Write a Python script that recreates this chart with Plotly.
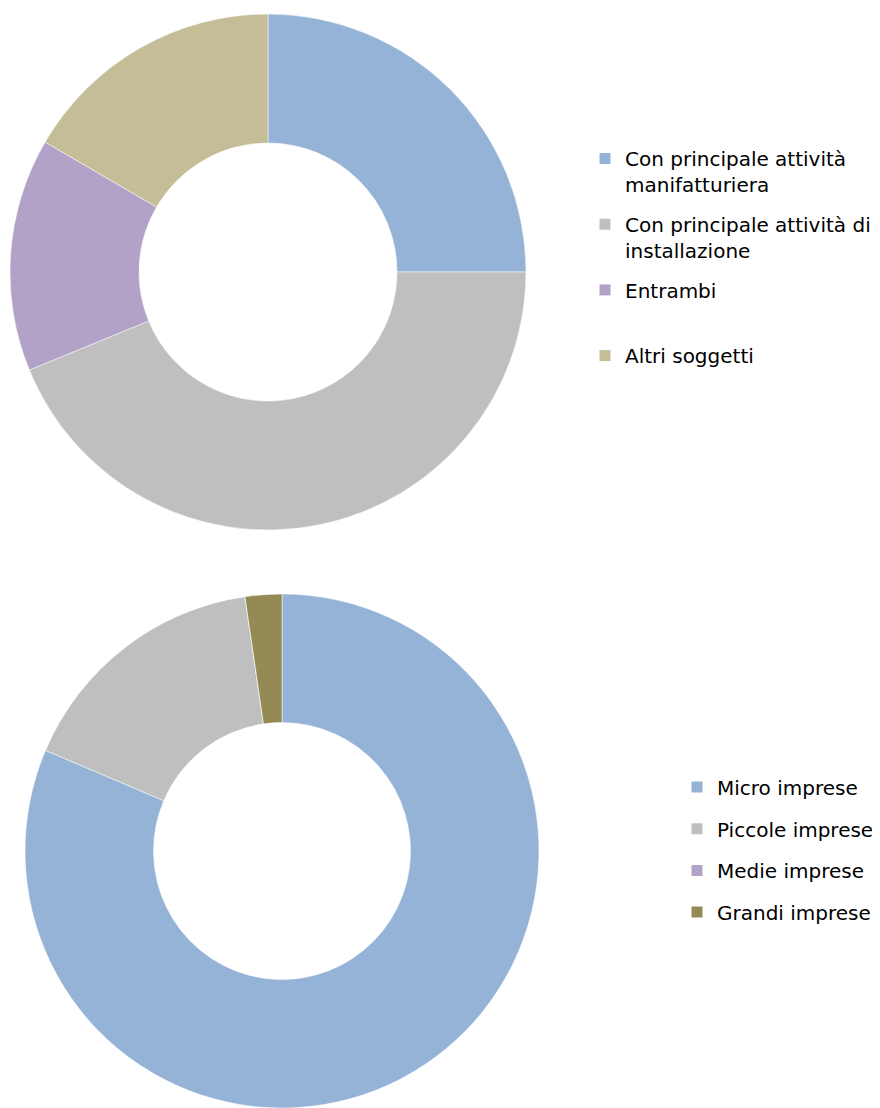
import plotly.graph_objs as go

# top donut: type of activity
attivita_labels = [
    "Con principale attività<br>manifatturiera",
    "Con principale attività di<br>installazione",
    "Entrambi<br>&nbsp;",
    "Altri soggetti",
]
attivita_values = [25.0, 43.8, 14.6, 16.6]
attivita_colors = ["#95B3D7", "#BFBFBF", "#B2A2C7", "#C4BD97"]

# bottom donut: company size
dimensione_labels = ["Micro imprese", "Piccole imprese", "Medie imprese", "Grandi imprese"]
dimensione_values = [81.4, 16.3, 0.0, 2.3]
dimensione_colors = ["#95B3D7", "#BFBFBF", "#B2A2C7", "#948A54"]

# the html page adds an 8px body margin, so the figure is 8px smaller
W, H = 872, 1100

fig = go.Figure()

fig.add_trace(
    go.Pie(
        labels=attivita_labels,
        values=attivita_values,
        marker=dict(colors=attivita_colors, line=dict(color="white", width=0.5)),
        hole=0.5,
        sort=False,
        direction="clockwise",
        rotation=0,
        textinfo="none",
        showlegend=False,
        domain=dict(x=[2 / W, 518 / W], y=[1 - 522 / H, 1 - 6 / H]),
    )
)

fig.add_trace(
    go.Pie(
        labels=dimensione_labels,
        values=dimensione_values,
        marker=dict(colors=dimensione_colors, line=dict(color="white", width=0.5)),
        hole=0.5,
        sort=False,
        direction="clockwise",
        rotation=0,
        textinfo="none",
        showlegend=False,
        domain=dict(x=[17 / W, 531 / W], y=[0, 1 - 586 / H]),
    )
)

# legend entries, one group each so the legend can space them like the original
for name, col in zip(attivita_labels, attivita_colors):
    fig.add_trace(
        go.Scatter(
            x=[None], y=[None], mode="markers", name=name,
            marker=dict(symbol="square", size=11, color=col, line=dict(width=0)),
            legend="legend", legendgroup="a_" + name,
        )
    )

for name, col in zip(dimensione_labels, dimensione_colors):
    fig.add_trace(
        go.Scatter(
            x=[None], y=[None], mode="markers", name=name,
            marker=dict(symbol="square", size=11, color=col, line=dict(width=0)),
            legend="legend2", legendgroup="d_" + name,
        )
    )

legend_font = dict(family="DejaVu Sans", size=20, color="#000000")

fig.update_layout(
    width=W,
    height=H,
    margin=dict(l=0, r=0, t=0, b=0),
    paper_bgcolor="white",
    plot_bgcolor="white",
    xaxis=dict(visible=False),
    yaxis=dict(visible=False),
    legend=dict(
        x=577 / W, y=1 - 131 / H, xanchor="left", yanchor="top",
        font=legend_font, traceorder="grouped", tracegroupgap=10.7,
        valign="top", bgcolor="rgba(0,0,0,0)",
    ),
    legend2=dict(
        x=669 / W, y=1 - 759.5 / H, xanchor="left", yanchor="top",
        font=legend_font, traceorder="grouped", tracegroupgap=12.7,
        valign="top", bgcolor="rgba(0,0,0,0)",
    ),
)

fig.write_html("out.html")
